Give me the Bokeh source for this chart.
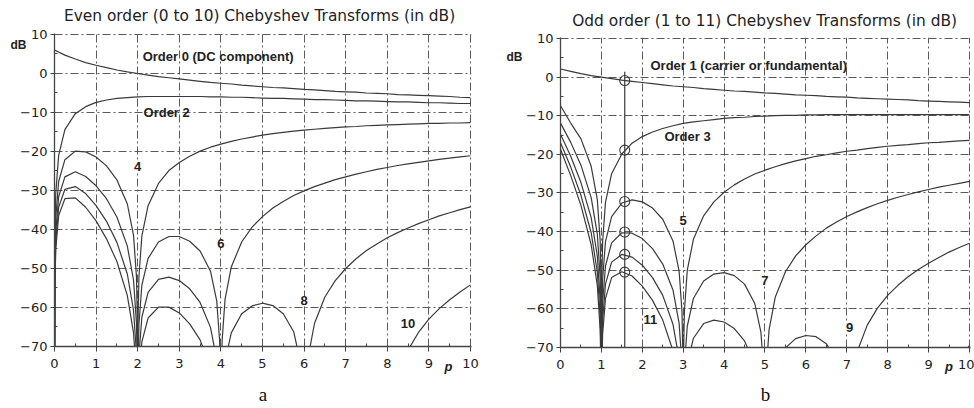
from bokeh.plotting import figure
from bokeh.layouts import row
from bokeh.models import Range1d, FixedTicker, Label, LinearAxis
from bokeh.embed import file_html
from bokeh.resources import INLINE

# ---------------- data (dB levels) ----------------
P_STD = [0, 0.25, 0.5, 0.75, 1, 1.25, 1.5, 1.75, 2, 2.25, 2.5, 2.75, 3, 3.25, 3.5, 3.75, 4, 4.25,
         4.5, 4.75, 5, 5.25, 5.5, 5.75, 6, 6.25, 6.5, 6.75, 7, 7.25, 7.5, 7.75, 8, 8.25, 8.5, 8.75,
         9, 9.25, 9.5, 9.75, 10]

# even orders
DB0 = [6.0, 4.7, 3.7, 2.8, 2.1, 1.5, 0.9, 0.4, 0.0, -0.4, -0.8, -1.1, -1.4, -1.7, -2.0, -2.3, -2.5,
       -2.7, -3.0, -3.2, -3.4, -3.6, -3.7, -3.9, -4.1, -4.2, -4.4, -4.6, -4.7, -4.8, -5.0, -5.1,
       -5.2, -5.4, -5.5, -5.6, -5.7, -5.8, -5.9, -6.1, -6.2]

P2 = [0, 0.008, 0.03, 0.1, 0.25, 0.5, 0.75, 1, 1.25, 1.5, 1.75, 2, 2.25, 2.5, 2.75, 3, 3.25, 3.5,
      3.75, 4, 4.25, 4.5, 4.75, 5, 5.25, 5.5, 5.75, 6, 6.25, 6.5, 6.75, 7, 7.25, 7.5, 7.75, 8, 8.25,
      8.5, 8.75, 9, 9.25, 9.5, 9.75, 10]
DB2 = [-90, -42.0, -30.8, -21.0, -14.4, -10.3, -8.5, -7.4, -6.8, -6.4, -6.2, -6.0, -5.9, -5.9,
       -5.9, -5.9, -5.9, -5.9, -6.0, -6.0, -6.1, -6.1, -6.2, -6.3, -6.4, -6.4, -6.5, -6.6, -6.7,
       -6.7, -6.8, -6.9, -7.0, -7.0, -7.1, -7.2, -7.3, -7.3, -7.4, -7.5, -7.5, -7.6, -7.7, -7.7]

P4 = [0, 0.008, 0.03, 0.1, 0.25, 0.5, 0.75, 1, 1.25, 1.5, 1.75, 1.9, 1.97, 1.992, 2, 2.008, 2.03,
      2.1, 2.25, 2.5, 2.75, 3, 3.25, 3.5, 3.75, 4, 4.25, 4.5, 4.75, 5, 5.25, 5.5, 5.75, 6, 6.25,
      6.5, 6.75, 7, 7.25, 7.5, 7.75, 8, 8.25, 8.5, 8.75, 9, 9.25, 9.5, 9.75, 10]
DB4 = [-90, -48.1, -37.0, -27.7, -22.1, -19.9, -20.1, -21.4, -23.7, -27.3, -33.4, -41.5, -52.0,
       -63.5, -90, -63.5, -52.1, -41.7, -33.9, -28.2, -24.9, -22.8, -21.2, -19.9, -18.9, -18.1,
       -17.4, -16.8, -16.3, -15.8, -15.4, -15.1, -14.8, -14.5, -14.3, -14.1, -13.9, -13.7, -13.6,
       -13.4, -13.3, -13.2, -13.1, -13.0, -12.9, -12.8, -12.8, -12.7, -12.7, -12.6]

P6 = [0, 0.008, 0.03, 0.1, 0.25, 0.5, 0.75, 1, 1.25, 1.5, 1.75, 1.9, 1.97, 1.992, 2, 2.008, 2.03,
      2.1, 2.25, 2.5, 2.75, 3, 3.25, 3.5, 3.75, 3.9, 3.97, 3.992, 4, 4.008, 4.03, 4.1, 4.25, 4.5,
      4.75, 5, 5.25, 5.5, 5.75, 6, 6.25, 6.5, 6.75, 7, 7.25, 7.5, 7.75, 8, 8.25, 8.5, 8.75, 9,
      9.25, 9.5, 9.75, 10]
DB6 = [-90, -51.6, -40.6, -31.6, -26.5, -25.2, -26.4, -28.8, -32.1, -36.8, -44.2, -53.0, -63.9,
       -75.5, -90, -75.6, -64.3, -54.3, -47.4, -43.2, -41.8, -41.8, -43.0, -45.5, -50.7, -58.3,
       -68.6, -80.0, -90, -80.0, -68.5, -57.9, -49.6, -43.2, -39.4, -36.7, -34.5, -32.8, -31.3,
       -30.1, -29.0, -28.1, -27.2, -26.5, -25.8, -25.2, -24.6, -24.1, -23.6, -23.2, -22.8, -22.4,
       -22.0, -21.7, -21.4, -21.1]

P8 = [0, 0.008, 0.03, 0.1, 0.25, 0.5, 0.75, 1, 1.25, 1.5, 1.75, 1.9, 1.97, 1.992, 2, 2.008, 2.03,
      2.1, 2.25, 2.5, 2.75, 3, 3.25, 3.5, 3.75, 3.9, 3.97, 3.992, 4, 4.008, 4.03, 4.1, 4.25, 4.5,
      4.75, 5, 5.25, 5.5, 5.75, 5.9, 5.97, 5.992, 6, 6.008, 6.03, 6.1, 6.25, 6.5, 6.75, 7, 7.25,
      7.5, 7.75, 8, 8.25, 8.5, 8.75, 9, 9.25, 9.5, 9.75, 10]
DB8 = [-90, -54.2, -43.2, -34.3, -29.7, -29.0, -30.8, -33.9, -37.9, -43.3, -51.4, -60.7, -71.8,
       -83.4, -90, -83.6, -72.3, -62.5, -56.1, -52.8, -52.2, -53.1, -55.2, -58.7, -65.1, -73.4,
       -84.0, -90, -90, -90, -84.2, -73.9, -66.5, -61.6, -59.6, -58.9, -59.5, -61.6, -66.2, -73.4,
       -83.6, -90, -90, -90, -83.4, -72.6, -64.1, -57.3, -53.1, -50.0, -47.5, -45.4, -43.7, -42.1,
       -40.8, -39.6, -38.5, -37.5, -36.5, -35.7, -34.9, -34.2]

P10 = [0, 0.008, 0.03, 0.1, 0.25, 0.5, 0.75, 1, 1.25, 1.5, 1.75, 1.9, 1.97, 1.992, 2, 2.008, 2.03,
       2.1, 2.25, 2.5, 2.75, 3, 3.25, 3.5, 3.75, 3.9, 3.97, 3.992, 4, 4.008, 4.03, 4.1, 4.25, 4.5,
       4.75, 5, 5.25, 5.5, 5.75, 5.9, 5.97, 5.992, 6, 6.008, 6.03, 6.1, 6.25, 6.5, 6.75, 7, 7.25,
       7.5, 7.75, 7.9, 7.97, 7.992, 8, 8.008, 8.03, 8.1, 8.25, 8.5, 8.75, 9, 9.25, 9.5, 9.75, 10]
DB10 = [-90, -56.1, -45.2, -36.4, -32.1, -31.9, -34.3, -37.8, -42.4, -48.2, -56.9, -66.5, -77.7,
        -89.4, -90, -89.6, -78.4, -68.8, -62.7, -59.9, -59.9, -61.4, -64.2, -68.3, -75.3, -84.0,
        -90, -90, -90, -90, -90, -85.1, -78.1, -74.0, -72.7, -72.9, -74.3, -77.3, -83.1, -90, -90,
        -90, -90, -90, -90, -90, -83.5, -78.1, -75.6, -74.6, -74.7, -76.3, -80.7, -87.8, -90, -90,
        -90, -90, -90, -86.7, -78.0, -70.9, -66.4, -63.0, -60.3, -58.0, -56.0, -54.2]

# odd orders
DB1 = [2.1, 1.5, 0.9, 0.4, 0.0, -0.4, -0.8, -1.1, -1.4, -1.7, -2.0, -2.3, -2.5, -2.7, -3.0, -3.2,
       -3.4, -3.6, -3.7, -3.9, -4.1, -4.2, -4.4, -4.6, -4.7, -4.8, -5.0, -5.1, -5.2, -5.4, -5.5,
       -5.6, -5.7, -5.8, -5.9, -6.1, -6.2, -6.3, -6.4, -6.5, -6.6]

P3 = [0, 0.25, 0.5, 0.75, 0.9, 0.97, 0.992, 1, 1.008, 1.03, 1.1, 1.25, 1.5, 1.75, 2, 2.25, 2.5,
      2.75, 3, 3.25, 3.5, 3.75, 4, 4.25, 4.5, 4.75, 5, 5.25, 5.5, 5.75, 6, 6.25, 6.5, 6.75, 7, 7.25,
      7.5, 7.75, 8, 8.25, 8.5, 8.75, 9, 9.25, 9.5, 9.75, 10]
DB3 = [-7.4, -11.9, -16.0, -23.1, -31.7, -42.4, -53.9, -90, -54.0, -42.6, -32.4, -25.0, -19.9,
       -17.1, -15.4, -14.2, -13.3, -12.6, -12.0, -11.6, -11.3, -11.0, -10.7, -10.5, -10.4, -10.2,
       -10.1, -10.0, -9.9, -9.9, -9.8, -9.8, -9.7, -9.7, -9.7, -9.7, -9.7, -9.7, -9.7, -9.7, -9.7,
       -9.7, -9.7, -9.7, -9.7, -9.7, -9.7]

P5 = [0, 0.25, 0.5, 0.75, 0.9, 0.97, 0.992, 1, 1.008, 1.03, 1.1, 1.25, 1.5, 1.75, 2, 2.25, 2.5,
      2.75, 2.9, 2.97, 2.992, 3, 3.008, 3.03, 3.1, 3.25, 3.5, 3.75, 4, 4.25, 4.5, 4.75, 5, 5.25,
      5.5, 5.75, 6, 6.25, 6.5, 6.75, 7, 7.25, 7.5, 7.75, 8, 8.25, 8.5, 8.75, 9, 9.25, 9.5, 9.75, 10]
DB5 = [-11.9, -16.9, -22.8, -31.2, -40.6, -51.8, -63.4, -90, -63.6, -52.3, -42.6, -36.1, -32.6,
       -31.8, -32.3, -33.9, -36.8, -42.4, -50.2, -60.6, -72.0, -90, -72.0, -60.5, -50.0, -42.0,
       -35.9, -32.3, -29.8, -27.9, -26.4, -25.1, -24.1, -23.2, -22.4, -21.7, -21.1, -20.5, -20.1,
       -19.6, -19.2, -18.9, -18.5, -18.2, -17.9, -17.7, -17.5, -17.2, -17.0, -16.9, -16.7, -16.5,
       -16.4]

P7 = [0, 0.25, 0.5, 0.75, 0.9, 0.97, 0.992, 1, 1.008, 1.03, 1.1, 1.25, 1.5, 1.75, 2, 2.25, 2.5,
      2.75, 2.9, 2.97, 2.992, 3, 3.008, 3.03, 3.1, 3.25, 3.5, 3.75, 4, 4.25, 4.5, 4.75, 4.9, 4.97,
      4.992, 5, 5.008, 5.03, 5.1, 5.25, 5.5, 5.75, 6, 6.25, 6.5, 6.75, 7, 7.25, 7.5, 7.75, 8, 8.25,
      8.5, 8.75, 9, 9.25, 9.5, 9.75, 10]
DB7 = [-14.8, -20.5, -27.3, -36.4, -46.3, -57.7, -69.4, -90, -69.6, -58.4, -48.9, -42.9, -40.3,
       -40.4, -41.8, -44.4, -48.4, -55.1, -63.7, -74.4, -86.0, -90, -86.1, -74.7, -64.5, -57.3,
       -52.8, -51.0, -50.6, -51.4, -53.6, -58.6, -66.0, -76.2, -87.6, -90, -87.6, -76.0, -65.4,
       -57.0, -50.4, -46.3, -43.4, -41.1, -39.1, -37.5, -36.1, -34.9, -33.8, -32.8, -31.9, -31.1,
       -30.4, -29.7, -29.1, -28.5, -28.0, -27.5, -27.0]

P9 = [0, 0.25, 0.5, 0.75, 0.9, 0.97, 0.992, 1, 1.008, 1.03, 1.1, 1.25, 1.5, 1.75, 2, 2.25, 2.5,
      2.75, 2.9, 2.97, 2.992, 3, 3.008, 3.03, 3.1, 3.25, 3.5, 3.75, 4, 4.25, 4.5, 4.75, 4.9, 4.97,
      4.992, 5, 5.008, 5.03, 5.1, 5.25, 5.5, 5.75, 6, 6.25, 6.5, 6.75, 6.9, 6.97, 6.992, 7, 7.008,
      7.03, 7.1, 7.25, 7.5, 7.75, 8, 8.25, 8.5, 8.75, 9, 9.25, 9.5, 9.75, 10]
DB9 = [-17.0, -23.3, -30.6, -40.3, -50.5, -62.0, -73.9, -90, -74.1, -63.0, -53.6, -47.9, -45.9,
       -46.6, -48.7, -51.9, -56.5, -64.0, -72.9, -83.9, -90, -90, -90, -84.3, -74.4, -67.6, -63.8,
       -62.9, -63.4, -65.1, -68.3, -74.3, -82.4, -90, -90, -90, -90, -90, -82.8, -75.2, -70.1,
       -67.7, -66.9, -67.2, -69.0, -73.5, -80.7, -90, -90, -90, -90, -90, -79.7, -71.2, -64.2,
       -59.8, -56.5, -53.9, -51.7, -49.8, -48.2, -46.7, -45.3, -44.1, -43.0]

P11 = [0, 0.25, 0.5, 0.75, 0.9, 0.97, 0.992, 1, 1.008, 1.03, 1.1, 1.25, 1.5, 1.75, 2, 2.25, 2.5,
       2.75, 2.9, 2.97, 2.992, 3, 3.008, 3.03, 3.1, 3.25, 3.5, 3.75, 4, 4.25, 4.5, 4.75, 4.9, 4.97,
       4.992, 5, 5.008, 5.03, 5.1, 5.25, 5.5, 5.75, 6, 6.25, 6.5, 6.75, 6.9, 6.97, 6.992, 7, 7.008,
       7.03, 7.1, 7.25, 7.5, 7.75, 8, 8.25, 8.5, 8.75, 8.9, 8.97, 8.992, 9, 9.008, 9.03, 9.1, 9.25,
       9.5, 9.75, 10]
DB11 = [-18.7, -25.5, -33.2, -43.4, -53.9, -65.5, -77.4, -90, -77.6, -66.5, -57.3, -51.9, -50.4,
        -51.5, -54.1, -57.8, -62.9, -70.8, -80.1, -90, -90, -90, -90, -90, -81.9, -75.5, -72.2,
        -71.8, -72.9, -75.2, -79.0, -85.7, -90, -90, -90, -90, -90, -90, -90, -87.9, -83.5, -82.0,
        -82.3, -85.9, -90, -90, -90, -90, -90, -90, -90, -90, -90, -86.0, -83.3, -82.1, -82.1,
        -83.5, -87.8, -90, -90, -90, -90, -90, -90, -90, -90, -84.9, -77.6, -73.0, -69.5]

# marked abscissa p = pi/2 in panel b and the levels of the odd orders there
MARK_P = 1.5708
MARK_TOP = 1.4
MARK_DB = [-0.9, -18.9, -32.2, -40.1, -45.9, -50.5]

X_TICKS = [0, 1, 2, 3, 4, 5, 6, 7, 8, 9, 10]
X_MINOR = [0.5, 1.5, 2.5, 3.5, 4.5, 5.5, 6.5, 7.5, 8.5, 9.5]
Y_TICKS = [-70, -60, -50, -40, -30, -20, -10, 0, 10]
Y_MINOR = [-65, -55, -45, -35, -25, -15, -5, 5]
Y_TICK_LABELS = ["\u221270", "\u221260", "\u221250", "\u221240", "\u221230", "\u221220",
                 "\u221210", "0", "10"]

TITLE_A = "Even order (0 to 10) Chebyshev Transforms (in dB)"
TITLE_B = "Odd order (1 to 11) Chebyshev Transforms (in dB)"

EVEN = [(P_STD, DB0), (P2, DB2), (P4, DB4), (P6, DB6), (P8, DB8), (P10, DB10)]
ODD = [(P_STD, DB1), (P3, DB3), (P5, DB5), (P7, DB7), (P9, DB9), (P11, DB11)]
for xs, ys in EVEN + ODD:
    assert len(xs) == len(ys), (len(xs), len(ys))

CURVE = "#3a3a3a"
GRID = "#5a5a5a"
AXIS = "#444444"
TXT = "#222222"
SANS = "DejaVu Sans"
BOLD = "Liberation Sans"
H = 407


def make_panel(border_left, border_right, border_top, border_bottom, sub_label, sub_standoff):
    p = figure(width=487, height=H, output_backend="svg", toolbar_location=None,
               title=None, x_range=Range1d(0, 10.025), y_range=Range1d(-70, 10.25),
               min_border_left=border_left, min_border_right=border_right,
               min_border_top=border_top, min_border_bottom=border_bottom)
    try:
        p.frame_align = False
    except Exception:
        pass
    p.outline_line_color = None
    p.background_fill_color = "white"
    p.border_fill_color = "white"
    xa = p.xaxis[0]
    ya = p.yaxis[0]
    xa.ticker = FixedTicker(ticks=X_TICKS, minor_ticks=X_MINOR)
    ya.ticker = FixedTicker(ticks=Y_TICKS, minor_ticks=Y_MINOR)
    ya.major_label_overrides = {t: s for t, s in zip(Y_TICKS, Y_TICK_LABELS)}
    p.xgrid.ticker = FixedTicker(ticks=X_TICKS[1:])
    p.ygrid.ticker = FixedTicker(ticks=Y_TICKS[1:])
    for g in (p.xgrid, p.ygrid):
        g.grid_line_color = GRID
        g.grid_line_width = 1
        g.grid_line_dash = "8 3 2 3"
    for ax in (xa, ya):
        ax.axis_line_color = AXIS
        ax.axis_line_width = 1.3
        ax.major_tick_line_color = AXIS
        ax.minor_tick_line_color = AXIS
        ax.major_tick_in = 0
        ax.minor_tick_out = 0
        ax.minor_tick_in = 3
        ax.major_label_text_font = SANS
        ax.major_label_text_font_size = "13px"
        ax.major_label_text_color = TXT
    xa.major_tick_out = 5
    xa.major_label_standoff = 7
    ya.major_tick_out = 4
    ya.major_label_standoff = 3
    # sub-figure letter under the panel
    xa.axis_label = sub_label
    xa.axis_label_text_font = "Liberation Serif"
    xa.axis_label_text_font_style = "normal"
    xa.axis_label_text_font_size = "19px"
    xa.axis_label_text_color = "#111111"
    xa.axis_label_standoff = sub_standoff
    return p


def label_axis(ticks, texts, standoff, font, style, size):
    ax = LinearAxis(ticker=FixedTicker(ticks=ticks, minor_ticks=[]),
                    major_label_overrides=dict(zip(ticks, texts)))
    ax.axis_line_color = None
    ax.major_tick_line_color = None
    ax.minor_tick_line_color = None
    ax.major_tick_out = 0
    ax.major_tick_in = 0
    ax.major_label_standoff = standoff
    ax.major_label_text_font = font
    ax.major_label_text_font_style = style
    ax.major_label_text_font_size = size
    ax.major_label_text_color = TXT
    return ax


def add_text(p, x, y, text, align="left", boxed=False):
    p.add_layout(Label(x=x, y=y, text=text, text_font=BOLD, text_font_size="13px",
                       text_font_style="bold", text_color=TXT, text_align=align,
                       text_baseline="middle",
                       background_fill_color="white" if boxed else None))


# ---------------- panel a: even orders ----------------
pa = make_panel(54, 16, 33, H - 346, "a", 13)
for xs, ys in EVEN:
    pa.line(xs, ys, line_color=CURVE, line_width=1.2)
pa.add_layout(label_axis([4.93], [TITLE_A], 9, SANS, "normal", "15.4px"), "above")
pa.add_layout(label_axis([7.4], ["dB"], -9, BOLD, "bold", "12px"), "left")
pa.add_layout(label_axis([9.47], ["p"], -49, BOLD, "bold italic", "13px"), "below")
add_text(pa, 2.12, 4.4, "Order 0 (DC component)")
add_text(pa, 2.14, -10.0, "Order 2")
add_text(pa, 2.0, -23.8, "4", align="center", boxed=True)
add_text(pa, 4.0, -43.6, "6", align="center", boxed=True)
add_text(pa, 6.0, -58.2, "8", align="center", boxed=True)
add_text(pa, 8.5, -64.0, "10", align="center")

# ---------------- panel b: odd orders ----------------
pb = make_panel(73, 4, 37, H - 347, "b", 12)
for xs, ys in ODD:
    pb.line(xs, ys, line_color=CURVE, line_width=1.2)
pb.segment(x0=[MARK_P], y0=[-70], x1=[MARK_P], y1=[MARK_TOP], line_color=CURVE, line_width=1.2)
pb.scatter([MARK_P] * len(MARK_DB), MARK_DB, marker="circle", size=10, fill_color=None,
           line_color=CURVE, line_width=1.1)
pb.add_layout(label_axis([4.99], [TITLE_B], 8, SANS, "normal", "15.4px"), "above")
pb.add_layout(label_axis([5.3], ["dB"], 1, BOLD, "bold", "12px"), "left")
pb.add_layout(label_axis([9.5], ["p"], -49, BOLD, "bold italic", "13px"), "below")
add_text(pb, 2.2, 3.0, "Order 1 (carrier or fundamental)")
add_text(pb, 2.54, -15.4, "Order 3")
add_text(pb, 3.0, -37.2, "5", align="center", boxed=True)
add_text(pb, 5.0, -52.7, "7", align="center", boxed=True)
add_text(pb, 7.07, -64.9, "9", align="center", boxed=True)
add_text(pb, 2.2, -62.8, "11", align="center")

layout = row(pa, pb)
open("out.html", "w").write(file_html(layout, INLINE))
